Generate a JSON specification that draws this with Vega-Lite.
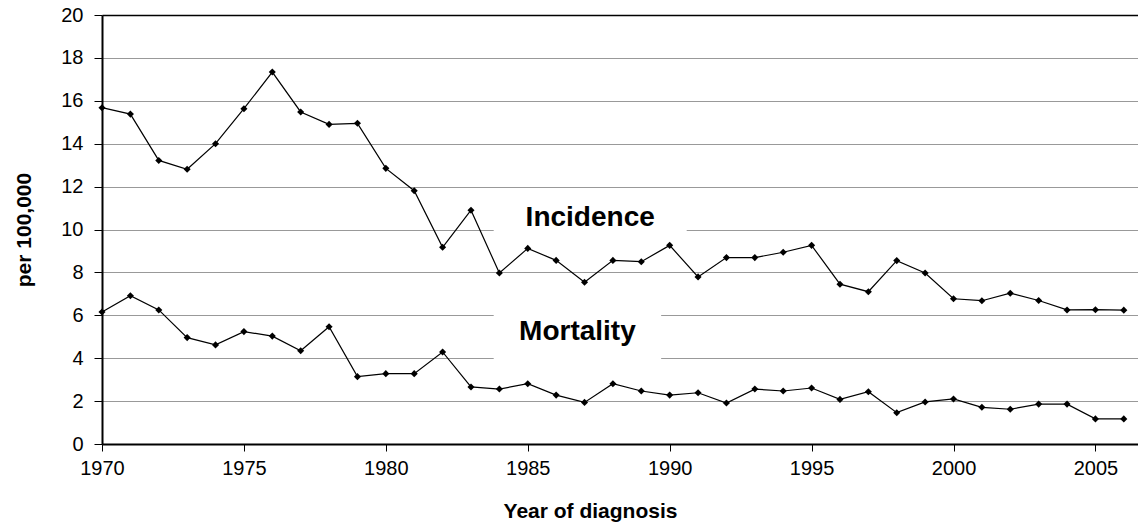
{
  "$schema": "https://vega.github.io/schema/vega-lite/v6.json",
  "width": 1036,
  "height": 429,
  "autosize": "none",
  "padding": {"left": 102, "top": 15, "right": 0, "bottom": 87},
  "background": "white",
  "config": {
    "view": {"stroke": null},
    "font": "Liberation Sans",
    "axis": {"labelFont": "Liberation Sans", "titleFont": "Liberation Sans", "labelColor": "black", "titleColor": "black"}
  },
  "datasets": {
    "rates": [
      {"year": 1970, "series": "Incidence", "value": 15.68},
      {"year": 1971, "series": "Incidence", "value": 15.38},
      {"year": 1972, "series": "Incidence", "value": 13.22},
      {"year": 1973, "series": "Incidence", "value": 12.81},
      {"year": 1974, "series": "Incidence", "value": 14.0},
      {"year": 1975, "series": "Incidence", "value": 15.63},
      {"year": 1976, "series": "Incidence", "value": 17.34},
      {"year": 1977, "series": "Incidence", "value": 15.48},
      {"year": 1978, "series": "Incidence", "value": 14.9},
      {"year": 1979, "series": "Incidence", "value": 14.95},
      {"year": 1980, "series": "Incidence", "value": 12.85},
      {"year": 1981, "series": "Incidence", "value": 11.81},
      {"year": 1982, "series": "Incidence", "value": 9.17},
      {"year": 1983, "series": "Incidence", "value": 10.9},
      {"year": 1984, "series": "Incidence", "value": 7.97},
      {"year": 1985, "series": "Incidence", "value": 9.12},
      {"year": 1986, "series": "Incidence", "value": 8.56},
      {"year": 1987, "series": "Incidence", "value": 7.54},
      {"year": 1988, "series": "Incidence", "value": 8.56},
      {"year": 1989, "series": "Incidence", "value": 8.5},
      {"year": 1990, "series": "Incidence", "value": 9.26},
      {"year": 1991, "series": "Incidence", "value": 7.79},
      {"year": 1992, "series": "Incidence", "value": 8.69},
      {"year": 1993, "series": "Incidence", "value": 8.69},
      {"year": 1994, "series": "Incidence", "value": 8.94},
      {"year": 1995, "series": "Incidence", "value": 9.26},
      {"year": 1996, "series": "Incidence", "value": 7.45},
      {"year": 1997, "series": "Incidence", "value": 7.1},
      {"year": 1998, "series": "Incidence", "value": 8.55},
      {"year": 1999, "series": "Incidence", "value": 7.97},
      {"year": 2000, "series": "Incidence", "value": 6.77},
      {"year": 2001, "series": "Incidence", "value": 6.68},
      {"year": 2002, "series": "Incidence", "value": 7.03},
      {"year": 2003, "series": "Incidence", "value": 6.69},
      {"year": 2004, "series": "Incidence", "value": 6.25},
      {"year": 2005, "series": "Incidence", "value": 6.26},
      {"year": 2006, "series": "Incidence", "value": 6.24},
      {"year": 1970, "series": "Mortality", "value": 6.15},
      {"year": 1971, "series": "Mortality", "value": 6.91},
      {"year": 1972, "series": "Mortality", "value": 6.25},
      {"year": 1973, "series": "Mortality", "value": 4.96},
      {"year": 1974, "series": "Mortality", "value": 4.62},
      {"year": 1975, "series": "Mortality", "value": 5.24},
      {"year": 1976, "series": "Mortality", "value": 5.03},
      {"year": 1977, "series": "Mortality", "value": 4.35},
      {"year": 1978, "series": "Mortality", "value": 5.47},
      {"year": 1979, "series": "Mortality", "value": 3.14},
      {"year": 1980, "series": "Mortality", "value": 3.28},
      {"year": 1981, "series": "Mortality", "value": 3.28},
      {"year": 1982, "series": "Mortality", "value": 4.29},
      {"year": 1983, "series": "Mortality", "value": 2.66},
      {"year": 1984, "series": "Mortality", "value": 2.56},
      {"year": 1985, "series": "Mortality", "value": 2.81},
      {"year": 1986, "series": "Mortality", "value": 2.28},
      {"year": 1987, "series": "Mortality", "value": 1.94},
      {"year": 1988, "series": "Mortality", "value": 2.81},
      {"year": 1989, "series": "Mortality", "value": 2.47},
      {"year": 1990, "series": "Mortality", "value": 2.28},
      {"year": 1991, "series": "Mortality", "value": 2.39},
      {"year": 1992, "series": "Mortality", "value": 1.91},
      {"year": 1993, "series": "Mortality", "value": 2.56},
      {"year": 1994, "series": "Mortality", "value": 2.47},
      {"year": 1995, "series": "Mortality", "value": 2.61},
      {"year": 1996, "series": "Mortality", "value": 2.08},
      {"year": 1997, "series": "Mortality", "value": 2.44},
      {"year": 1998, "series": "Mortality", "value": 1.46},
      {"year": 1999, "series": "Mortality", "value": 1.96},
      {"year": 2000, "series": "Mortality", "value": 2.1},
      {"year": 2001, "series": "Mortality", "value": 1.71},
      {"year": 2002, "series": "Mortality", "value": 1.62},
      {"year": 2003, "series": "Mortality", "value": 1.86},
      {"year": 2004, "series": "Mortality", "value": 1.86},
      {"year": 2005, "series": "Mortality", "value": 1.17},
      {"year": 2006, "series": "Mortality", "value": 1.17}
    ]
  },
  "layer": [
    {
      "data": {"values": [{"box": "Incidence"}]},
      "mark": {"type": "rect", "fill": "white", "stroke": null},
      "encoding": {
        "x": {"datum": 1983.8, "type": "quantitative", "scale": {"domain": [1970, 2006.5], "nice": false, "zero": false},
          "axis": {"values": [1970, 1975, 1980, 1985, 1990, 1995, 2000, 2005], "format": "d", "grid": false,
            "title": "Year of diagnosis", "titleFontSize": 21, "titleFontWeight": "bold", "titlePadding": 22, "titleX": 488,
            "labelFontSize": 20, "labelPadding": 7, "tickSize": 7, "tickColor": "black", "domainColor": "black", "domainWidth": 2, "labelFlush": false}},
        "x2": {"datum": 1990.6},
        "y": {"datum": 9.6, "type": "quantitative", "scale": {"domain": [0, 20], "nice": false},
          "axis": {"values": [0, 2, 4, 6, 8, 10, 12, 14, 16, 18, 20], "grid": true,
            "gridColor": {"condition": {"test": "datum.value === 20", "value": "black"}, "value": "#999999"},
            "gridWidth": {"condition": {"test": "datum.value === 20", "value": 1.5}, "value": 1},
            "title": "per 100,000", "titleFontSize": 21, "titleFontWeight": "bold", "titleX": -78, "titleBaseline": "middle",
            "labelFontSize": 20, "labelPadding": 11, "tickSize": 8, "tickColor": "black", "domainColor": "black", "domainWidth": 2}},
        "y2": {"datum": 11.5}
      }
    },
    {
      "data": {"values": [{"box": "Mortality"}]},
      "mark": {"type": "rect", "fill": "white", "stroke": null},
      "encoding": {
        "x": {"datum": 1983.8, "type": "quantitative"},
        "x2": {"datum": 1989.7},
        "y": {"datum": 3.4, "type": "quantitative"},
        "y2": {"datum": 6.8}
      }
    },
    {
      "data": {"name": "rates"},
      "mark": {"type": "line", "color": "black", "strokeWidth": 1.2},
      "encoding": {
        "x": {"field": "year", "type": "quantitative"},
        "y": {"field": "value", "type": "quantitative"},
        "detail": {"field": "series"}
      }
    },
    {
      "data": {"name": "rates"},
      "mark": {"type": "point", "shape": "diamond", "filled": true, "color": "black", "size": 50, "opacity": 1},
      "encoding": {
        "x": {"field": "year", "type": "quantitative"},
        "y": {"field": "value", "type": "quantitative"},
        "detail": {"field": "series"}
      }
    },
    {
      "data": {"values": [{"label": "Incidence"}]},
      "mark": {"type": "text", "fontSize": 28, "fontWeight": "bold", "color": "black", "align": "center", "baseline": "middle", "font": "Liberation Sans"},
      "encoding": {
        "x": {"datum": 1987.2, "type": "quantitative"},
        "y": {"datum": 10.55, "type": "quantitative"},
        "text": {"field": "label"}
      }
    },
    {
      "data": {"values": [{"label": "Mortality"}]},
      "mark": {"type": "text", "fontSize": 28, "fontWeight": "bold", "color": "black", "align": "center", "baseline": "middle", "font": "Liberation Sans"},
      "encoding": {
        "x": {"datum": 1986.75, "type": "quantitative"},
        "y": {"datum": 5.2, "type": "quantitative"},
        "text": {"field": "label"}
      }
    }
  ]
}
